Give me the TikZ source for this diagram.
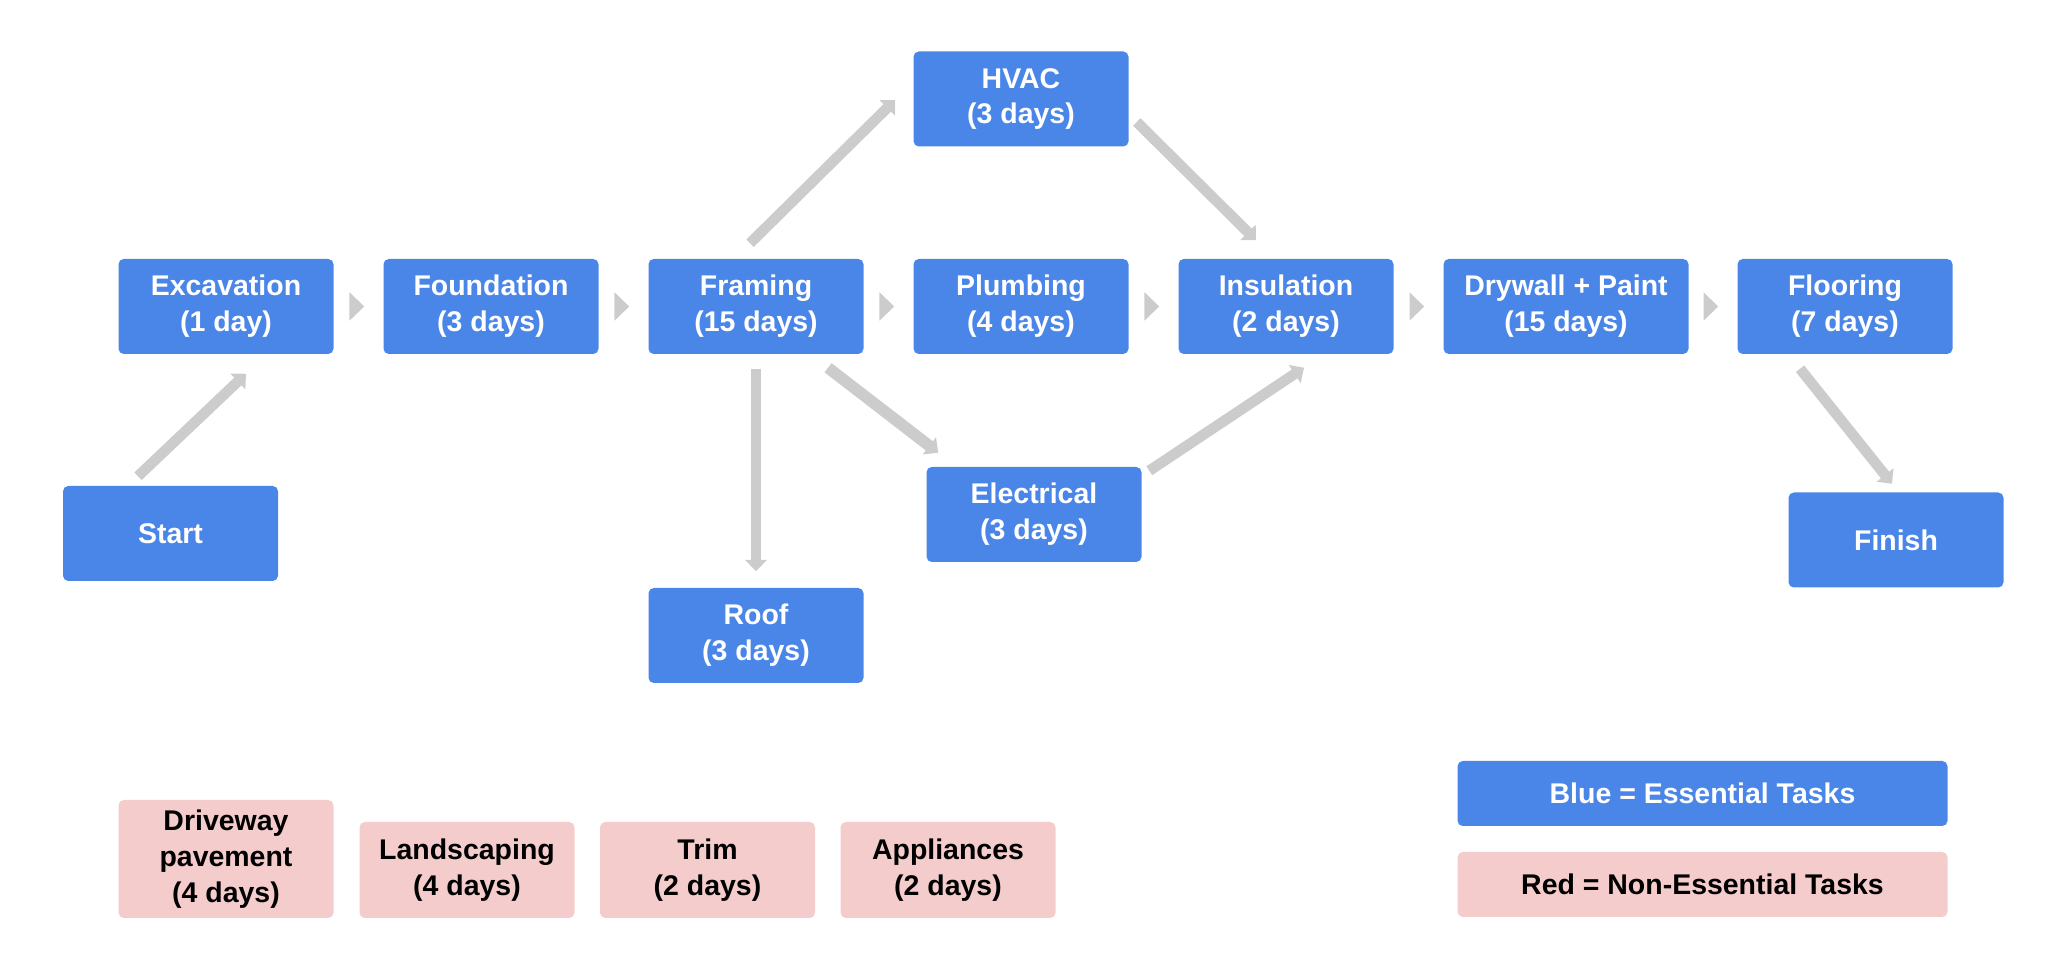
\documentclass[tikz,border=0pt]{standalone}
\usepackage{fontspec}
\setmainfont{Liberation Sans}
\usepackage{tikz}
\usepackage{color}
\usetikzlibrary{arrows.meta}
\usetikzlibrary{positioning}
\definecolor{tblue}{HTML}{4A86E8}
\definecolor{tred}{HTML}{F4CCCC}
\definecolor{tgray}{HTML}{CCCCCC}
\tikzset{every picture/.style={line width=1pt},every node/.style={font=\fontsize{8.1}{10.2}\selectfont\bfseries,align=center,inner sep=0pt}}

\begin{document}
\begin{tikzpicture}[ts/.style={fill=tblue,text=white,rounded corners=1.5pt,minimum width=2.15cm,minimum height=0.95cm},ns/.style={fill=tred,text=black,rounded corners=1.5pt,minimum width=2.15cm,minimum height=0.96cm},fs/.style={draw=tgray,line width=3pt,-{Triangle[length=3.2pt,width=6pt]}},hs/.style={draw=tgray,line width=0.4pt,shorten <=0.175cm,shorten >=0.175cm,-{Triangle[length=4.2pt,width=8pt]}},node distance=2.65cm]
\useasboundingbox (0,0) rectangle (20.50,-9.54);
\node (exc) [ts] at (2.26,-3.065) {Excavation\\(1 day)};
\node (fnd) [ts,right of=exc] {Foundation\\(3 days)};
\node (frm) [ts,right of=fnd] {Framing\\(15 days)};
\node (plm) [ts,right of=frm] {Plumbing\\(4 days)};
\node (ins) [ts,right of=plm] {Insulation\\(2 days)};
\node (dry) [ts,right of=ins, node distance=2.80cm, minimum width=2.45cm] {Drywall + Paint\\(15 days)};
\node (flr) [ts,right of=dry, node distance=2.79cm] {Flooring\\(7 days)};
\node (hvac) [ts,above of=plm, node distance=2.075cm] {HVAC\\(3 days)};
\node (elec) [ts,below of=plm, node distance=2.08cm, xshift=0.13cm] {Electrical\\(3 days)};
\node (roof) [ts,below of=frm, node distance=3.29cm] {Roof\\(3 days)};
\node (start) [ts,below of=exc, node distance=2.27cm, xshift=-0.555cm] {Start};
\node (fin) [ts,below of=flr, node distance=2.335cm, xshift=0.51cm] {Finish};
\node (drv) [ns,below of=exc, node distance=5.525cm, minimum height=1.18cm] {Driveway\\pavement\\(4 days)};
\node (lnd) [ns,right of=drv, node distance=2.41cm, yshift=-0.11cm] {Landscaping\\(4 days)};
\node (trim) [ns,right of=lnd, node distance=2.405cm] {Trim\\(2 days)};
\node (app) [ns,right of=trim, node distance=2.405cm] {Appliances\\(2 days)};
\node (lgb) [ts,minimum width=4.90cm,minimum height=0.65cm] at (17.025,-7.935) {Blue = Essential Tasks};
\node (lgr) [ns,below of=lgb, node distance=0.91cm, minimum width=4.90cm, minimum height=0.65cm] {Red = Non-Essential Tasks};
\draw[hs] (exc) -- (fnd);
\draw[hs] (fnd) -- (frm);
\draw[hs] (frm) -- (plm);
\draw[hs] (plm) -- (ins);
\draw[hs] (ins) -- (dry);
\draw[hs] (dry) -- (flr);
\draw[fs] ([shift={(-0.325,0.08)}]start.north) -- ([shift={(0.20,-0.18)}]exc.south);
\draw[fs] ([shift={(-0.06,0.14)}]frm.north) -- ([shift={(-0.165,-0.01)}]hvac.west);
\draw[fs] ([shift={(0.065,-0.23)}]hvac.east) -- ([shift={(-0.30,0.17)}]ins.north);
\draw[fs,shorten <=0.13cm,shorten >=0.15cm] (frm) -- (roof);
\draw[fs,line width=3.3pt] ([shift={(0.72,-0.12)}]frm.south) -- ([shift={(0.135,0.125)}]elec.north west);
\draw[fs] ([shift={(0.06,-0.055)}]elec.north east) -- ([shift={(0.18,-0.12)}]ins.south);
\draw[fs] ([shift={(-0.45,-0.13)}]flr.south) -- ([shift={(-0.04,0.07)}]fin.north);
\end{tikzpicture}
\end{document}
